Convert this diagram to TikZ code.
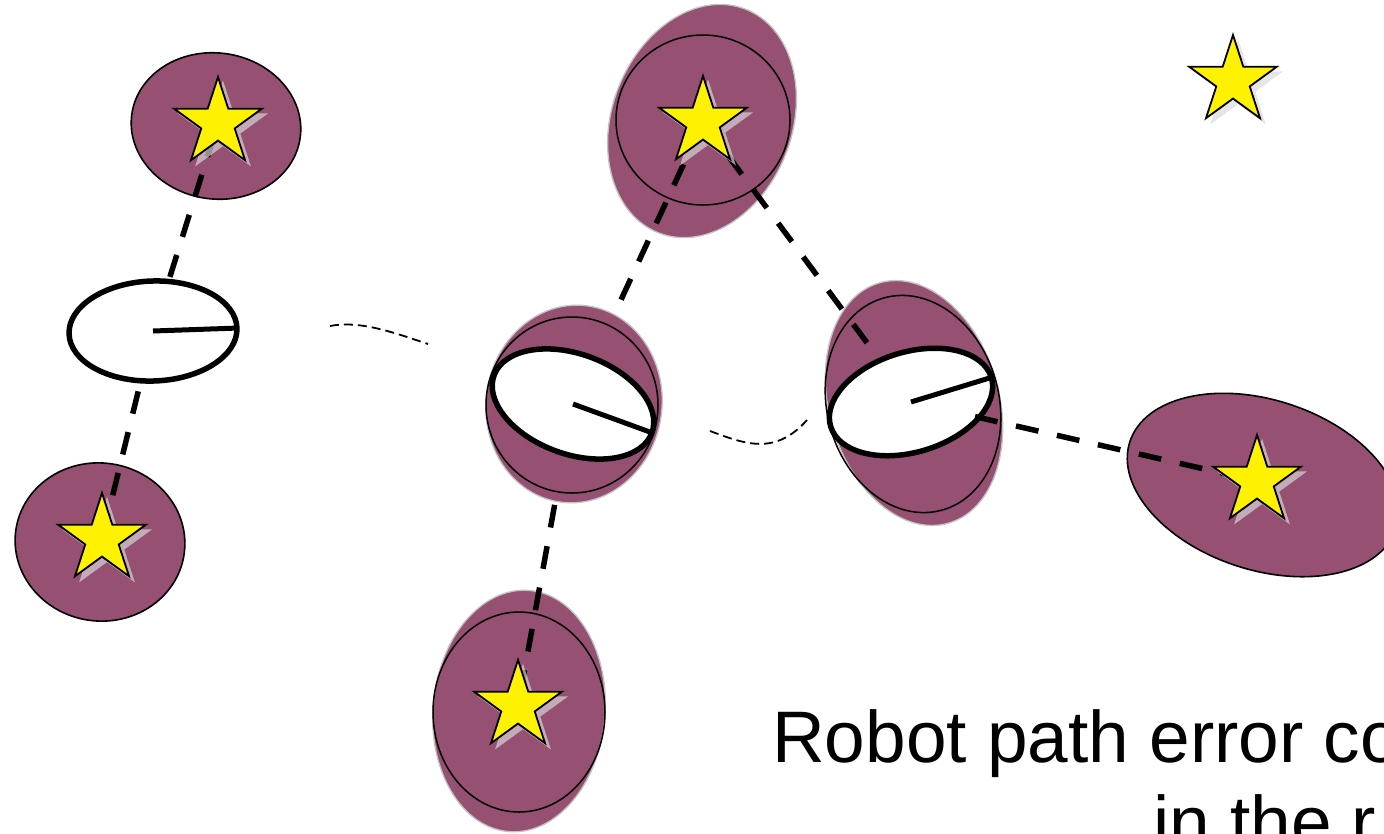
\documentclass[tikz,border=0pt]{standalone}
\usepackage{fontspec}
\setmainfont{Liberation Sans}
\usetikzlibrary{shapes.geometric,calc}
\definecolor{covpurple}{RGB}{149,80,114}
\definecolor{covedge}{RGB}{195,195,195}

\begin{document}
\begin{tikzpicture}[x=1pt,y=-1pt,
  covfill/.style={fill=covpurple, draw=covedge, line width=1.3pt},
  lmfill/.style={fill=covpurple, draw=black, line width=1.6pt},
  prior/.style={draw=black, line width=1.5pt},
  robot/.style={ellipse, draw=black, fill=white, line width=5.5pt, inner sep=0pt, outer sep=0pt,
                minimum width=168pt, minimum height=100pt},
  heading/.style={line width=5pt},
  obs/.style={line width=5.5pt, dash pattern=on 23pt off 19pt},
  trail/.style={line width=1.8pt, dash pattern=on 9pt off 5pt},
  lmstar/.style={star, star points=5, star point ratio=2.618, minimum size=92pt, inner sep=0pt,
                 draw=black, fill=yellow, line width=1.8pt},
  lmshadow/.style={star, star points=5, star point ratio=2.618, minimum size=95pt, inner sep=0pt,
                   fill=black!15, fill opacity=0.68},
  caption/.style={anchor=base west, inner sep=0pt, font=\fontsize{73pt}{85pt}\selectfont},
]
\useasboundingbox (0,0) rectangle (1384,833);
\clip (0,0) rectangle (1384,833);
\fill[white] (0,0) rectangle (1384,833);

% landmark positions
\coordinate (l1) at (218,123);
\coordinate (l2) at (703,122);
\coordinate (l3) at (518,706);
\coordinate (l4) at (102,539);
\coordinate (l5) at (1257,481);
\coordinate (l6) at (1233,81);

% landmark uncertainty ellipses
\draw[lmfill, rotate around={-8:(216,126)}] (216,126) ellipse [x radius=85pt, y radius=73pt];
\draw[lmfill, rotate around={-8:(100,542)}] (100,542) ellipse [x radius=85pt, y radius=79pt];
\draw[lmfill, rotate around={-18:(1263,485)}] (1263,485) ellipse [x radius=140pt, y radius=85pt];
\draw[covfill, rotate around={-21:(702,121)}] (702,121) ellipse [x radius=90pt, y radius=120pt];
\draw[prior] (703,120) ellipse [x radius=87pt, y radius=85pt];
\draw[covfill, rotate around={-5:(519,711)}] (519,711) ellipse [x radius=86pt, y radius=121pt];
\draw[prior] (519,712) ellipse [x radius=86pt, y radius=100pt];

% robot pose uncertainty ellipses
\draw[covfill, rotate around={-8:(574,404)}] (574,404) ellipse [x radius=88pt, y radius=99pt];
\draw[prior] (572,405) ellipse [x radius=86pt, y radius=88pt];
\draw[covfill, rotate around={16:(914,403)}] (914,403) ellipse [x radius=85pt, y radius=125pt];
\draw[prior, rotate around={15:(913,404)}] (913,404) ellipse [x radius=86pt, y radius=110pt];

% travelled path
\coordinate (p1a) at (330,326);
\coordinate (p1b) at (428,344);
\coordinate (p2a) at (710,431);
\coordinate (p2b) at (807,420);
\draw[trail] (p1a) .. controls (360,320) and (395,333) .. (p1b);
\draw[trail] (p2a) .. controls (745,444) and (775,456) .. (p2b);

% robot poses
\node[robot, rotate=2] (r1) at (153,331) {};
\node[robot, rotate=-20] (r2) at (573,404) {};
\node[robot, rotate=17] (r3) at (911,402) {};
\draw[heading] (r1.center) -- (r1.east);
\draw[heading] (r2.center) -- (r2.east);
\draw[heading] (r3.center) -- (r3.east);

% landmark observations
\draw[obs] ($(r1.center)!0.26!(l1)$) -- (l1);
\draw[obs] ($(r1.center)!0.29!(l4)$) -- (l4);
\draw[obs] ($(r2.center)!0.37!(l2)$) -- (l2);
\draw[obs] (l2) -- ($(l2)!0.8!(r3.center)$);
\draw[obs] ($(r2.center)!0.334!(l3)$) -- (l3);
\draw[obs] ($(r3.center)!0.185!(l5)$) -- (l5);

% landmarks
\foreach \l in {l1,l2,l3,l4,l5,l6}{
  \node[lmshadow] (\l sh) at ($(\l)+(5,5)$) {};
  \node[lmstar] (\l star) at (\l) {};
}

% caption
\node[caption] (cap1) at (772,762) {Robot path error co};
\node[caption] (cap2) at (1153,847) {in the r};
\end{tikzpicture}
\end{document}
